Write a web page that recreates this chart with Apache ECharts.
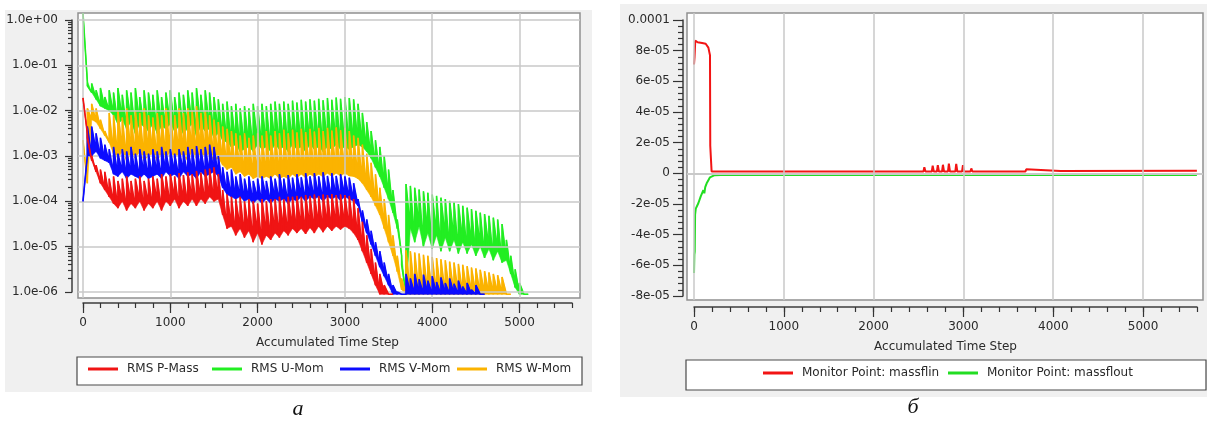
<!DOCTYPE html>
<html>
<head>
<meta charset="utf-8">
<title>Residuals and mass flow monitors</title>
<script src="https://cdn.jsdelivr.net/npm/echarts@6/dist/echarts.min.js"></script>
<style>
    html, body { margin: 0; padding: 0; background: #fff; }
    #main { width: 1210px; height: 421px; }
</style>
</head>
<body>
<div id="main"></div>
<script>
// left plot (a): RMS residuals, kept as log10 of the residual
// one entry per 50 time steps: value right after the jump (hi) and at the end of the step (lo)
var blockSize = 50;

var pMassHi = [
    -1.72, -2.6, -3.0, -3.2, -3.3, -3.35, -3.5, -3.45, -3.55, -3.5,
    -3.45, -3.55, -3.5, -3.45, -3.55, -3.5, -3.45, -3.5, -3.4, -3.45,
    -3.4, -3.45, -3.38, -3.42, -3.36, -3.4, -3.33, -3.37, -3.3, -3.28,
    -3.25, -3.4, -3.75, -3.85, -3.9, -3.95, -3.9, -4.0, -3.95, -4.0,
    -4.05, -3.95, -4.0, -3.95, -3.95, -3.9, -3.95, -3.9, -3.9, -3.88,
    -3.9, -3.86, -3.88, -3.85, -3.88, -3.85, -3.86, -3.84, -3.86, -3.85,
    -3.86, -3.88, -3.95, -4.15, -4.45, -4.75, -5.05, -5.35, -5.6, -5.85,
    -6.05
];
var pMassLo = [
    -2.5, -3.1, -3.35, -3.6, -3.75, -3.9, -4.05, -4.15, -4.0, -4.2,
    -4.05, -4.15, -4.0, -4.2, -4.05, -4.15, -4.0, -4.2, -4.0, -4.1,
    -3.95, -4.15, -4.0, -4.1, -3.95, -4.1, -3.95, -4.05, -3.9, -4.0,
    -3.95, -4.3, -4.6, -4.55, -4.75, -4.6, -4.8, -4.65, -4.9, -4.7,
    -4.95, -4.75, -4.85, -4.7, -4.8, -4.65, -4.75, -4.6, -4.7, -4.6,
    -4.72, -4.58, -4.7, -4.55, -4.68, -4.55, -4.65, -4.55, -4.62, -4.55,
    -4.6, -4.7, -4.85, -5.1, -5.35, -5.6, -5.85, -6.05, -6.05, -6.05,
    -6.05
];

var uMomHi = [
    0.15, -1.45, -1.4, -1.55, -1.5, -1.7, -1.55, -1.6, -1.5, -1.65,
    -1.55, -1.6, -1.5, -1.7, -1.55, -1.6, -1.65, -1.55, -1.7, -1.6,
    -1.55, -1.7, -1.6, -1.65, -1.55, -1.6, -1.5, -1.65, -1.55, -1.6,
    -1.7, -1.75, -1.85, -1.8, -1.9, -1.85, -1.95, -1.9, -1.95, -1.85,
    -1.9, -1.85, -1.9, -1.85, -1.8, -1.85, -1.8, -1.85, -1.78, -1.82,
    -1.76, -1.8, -1.75, -1.78, -1.74, -1.77, -1.72, -1.76, -1.71, -1.74,
    -1.7, -1.72, -1.75, -1.85, -2.05, -2.25, -2.45, -2.65, -2.8, -3.0,
    -3.3, -3.75, -4.4, -5.4, -3.62, -3.66, -3.7, -3.74, -3.78, -3.81,
    -3.85, -3.88, -3.92, -3.95, -3.99, -4.02, -4.06, -4.1, -4.14, -4.17,
    -4.21, -4.25, -4.28, -4.32, -4.36, -4.4, -4.5, -4.85, -5.2, -5.5,
    -5.8, -6.05
];
var uMomLo = [
    -1.35, -1.6, -1.75, -1.9, -1.95, -2.0, -2.1, -2.3, -2.2, -2.4,
    -2.25, -2.5, -2.3, -2.35, -2.45, -2.3, -2.5, -2.35, -2.4, -2.3,
    -2.45, -2.35, -2.5, -2.4, -2.3, -2.55, -2.35, -2.45, -2.4, -2.6,
    -2.5, -2.65, -2.7, -2.8, -2.75, -2.9, -2.85, -2.8, -2.9, -2.75,
    -2.85, -2.8, -2.9, -2.75, -2.85, -2.8, -2.9, -2.75, -2.85, -2.8,
    -2.9, -2.75, -2.85, -2.8, -2.9, -2.8, -2.85, -2.75, -2.85, -2.8,
    -2.85, -2.8, -2.75, -2.8, -2.9, -3.05, -3.25, -3.45, -3.7, -3.95,
    -4.25, -4.6, -5.2, -6.05, -4.6, -4.9, -4.55, -5.0, -4.7, -5.05,
    -4.75, -5.1, -4.8, -5.1, -4.85, -5.15, -4.9, -5.15, -4.95, -5.2,
    -5.0, -5.25, -5.05, -5.3, -5.1, -5.35, -5.3, -5.6, -5.9, -6.05,
    -6.05, -6.05
];

var vMomHi = [
    -4.0, -2.35, -2.35, -2.5, -2.6, -2.75, -2.85, -2.8, -2.95, -2.85,
    -2.9, -2.8, -2.95, -2.85, -2.9, -2.95, -2.85, -2.9, -2.8, -2.9,
    -2.85, -2.95, -2.85, -2.9, -2.8, -2.85, -2.78, -2.85, -2.8, -2.75,
    -2.8, -3.0, -3.25, -3.35, -3.3, -3.45, -3.4, -3.5, -3.45, -3.55,
    -3.5, -3.45, -3.55, -3.45, -3.5, -3.4, -3.5, -3.42, -3.48, -3.4,
    -3.47, -3.38, -3.45, -3.38, -3.45, -3.36, -3.44, -3.38, -3.44, -3.4,
    -3.45, -3.48, -3.6, -3.95, -4.2, -4.4, -4.65, -4.9, -5.1, -5.35,
    -5.6, -5.85, -6.0, -6.05, -5.6, -5.7, -5.6, -5.72, -5.62, -5.75,
    -5.65, -5.78, -5.68, -5.8, -5.7, -5.82, -5.75, -5.88, -5.8, -5.95,
    -5.85, -6.05
];
var vMomLo = [
    -3.0, -3.0, -2.9, -3.05, -3.1, -3.15, -3.4, -3.45, -3.35, -3.5,
    -3.4, -3.45, -3.5, -3.4, -3.5, -3.45, -3.4, -3.5, -3.35, -3.45,
    -3.4, -3.5, -3.35, -3.45, -3.4, -3.5, -3.35, -3.45, -3.4, -3.35,
    -3.45, -3.7, -3.85, -3.9, -3.95, -3.9, -4.0, -3.95, -4.05, -3.95,
    -4.05, -3.95, -4.05, -3.95, -4.0, -3.95, -4.05, -3.95, -4.0, -3.9,
    -4.0, -3.9, -3.95, -3.9, -4.0, -3.9, -3.95, -3.9, -3.98, -3.9,
    -3.95, -4.0, -4.1, -4.45, -4.7, -4.95, -5.2, -5.45, -5.65, -5.85,
    -6.05, -6.05, -6.05, -6.05, -6.05, -6.05, -6.05, -6.05, -6.05, -6.05,
    -6.05, -6.05, -6.05, -6.05, -6.05, -6.05, -6.05, -6.05, -6.05, -6.05,
    -6.05, -6.05
];

var wMomHi = [
    -2.65, -1.95, -1.85, -1.95, -2.2, -2.45, -2.05, -2.1, -2.0, -2.15,
    -1.95, -2.1, -2.0, -2.05, -1.95, -2.1, -2.15, -2.05, -2.1, -1.95,
    -2.0, -2.1, -1.95, -2.05, -1.95, -2.0, -1.9, -2.05, -2.0, -2.1,
    -2.2, -2.25, -2.35, -2.4, -2.45, -2.5, -2.55, -2.5, -2.6, -2.55,
    -2.5, -2.55, -2.45, -2.55, -2.45, -2.5, -2.42, -2.5, -2.42, -2.48,
    -2.4, -2.47, -2.4, -2.46, -2.38, -2.45, -2.38, -2.44, -2.37, -2.43,
    -2.38, -2.45, -2.55, -2.6, -2.75, -2.95, -3.15, -3.4, -3.7, -3.95,
    -4.3, -4.75, -5.2, -5.7, -5.08, -5.1, -5.13, -5.15, -5.18, -5.2,
    -5.23, -5.25, -5.28, -5.3, -5.33, -5.35, -5.38, -5.4, -5.43, -5.46,
    -5.48, -5.51, -5.54, -5.57, -5.6, -5.63, -5.67, -6.05
];
var wMomLo = [
    -3.6, -2.2, -2.25, -2.4, -2.55, -2.7, -2.95, -3.05, -2.9, -3.1,
    -2.95, -3.05, -2.9, -3.1, -3.0, -2.95, -3.1, -2.95, -3.05, -2.9,
    -3.05, -2.95, -3.0, -3.1, -2.9, -3.05, -2.95, -3.0, -2.95, -3.1,
    -3.05, -3.2, -3.3, -3.25, -3.4, -3.35, -3.45, -3.4, -3.5, -3.45,
    -3.5, -3.45, -3.5, -3.4, -3.5, -3.45, -3.5, -3.4, -3.48, -3.4,
    -3.48, -3.4, -3.46, -3.4, -3.46, -3.38, -3.45, -3.38, -3.44, -3.38,
    -3.44, -3.45, -3.5, -3.6, -3.75, -3.9, -4.1, -4.3, -4.6, -4.9,
    -5.2, -5.55, -5.95, -6.05, -6.05, -6.05, -6.05, -6.05, -6.05, -6.05,
    -6.05, -6.05, -6.05, -6.05, -6.05, -6.05, -6.05, -6.05, -6.05, -6.05,
    -6.05, -6.05, -6.05, -6.05, -6.05, -6.05, -6.05, -6.05
];

// right plot (б): monitor points, values in units of 1e-5
var flinSteps = [0, 6, 14, 40, 90, 130, 160, 178, 181, 190, 196,
    2555, 2565, 2578, 2648, 2658, 2670, 2705, 2715, 2727, 2762, 2772, 2784,
    2828, 2838, 2850, 2910, 2920, 2932, 2985, 2995, 3007, 3078, 3088, 3100,
    3690, 3700, 3712, 4080, 5600];
var flinVals = [7.1, 7.6, 8.65, 8.55, 8.5, 8.45, 8.2, 7.7, 1.8, 1.7, 0.12,
    0.12, 0.4, 0.12, 0.12, 0.5, 0.12, 0.12, 0.54, 0.12, 0.12, 0.56, 0.12,
    0.12, 0.64, 0.12, 0.12, 0.62, 0.12, 0.12, 0.54, 0.12, 0.12, 0.32, 0.12,
    0.12, 0.26, 0.14, 0.16, 0.17];
var flOutSteps = [0, 4, 8, 12, 20, 48, 75, 104, 115, 125, 141, 160, 178, 230, 300,
    520, 528, 536, 900, 908, 916, 1350, 1358, 1366, 1700, 1708, 1716,
    2100, 2108, 2116, 2450, 2458, 2466, 3150, 3158, 3166, 5600];
var flOutVals = [-6.5, -5.3, -5.1, -2.7, -2.3, -1.95, -1.5, -1.1, -1.3, -0.9, -0.65, -0.45, -0.26, -0.12, -0.1,
    -0.1, -0.2, -0.1, -0.1, -0.2, -0.1, -0.1, -0.21, -0.1, -0.1, -0.19, -0.1,
    -0.1, -0.2, -0.1, -0.1, -0.18, -0.1, -0.1, -0.18, -0.1, -0.1];

// axis ticks
var stepTicks = [0, 1000, 2000, 3000, 4000, 5000];
var decadeTicks = [0, -1, -2, -3, -4, -5, -6];
var flowTicks = [10, 8, 6, 4, 2, 0, -2, -4, -6, -8];

var font = 'DejaVu Sans';

function sawData(hi, lo) {
    var pts = [];
    for (var i = 0; i < hi.length; i++) {
        pts.push([i * blockSize, hi[i]]);
        pts.push([(i + 1) * blockSize, lo[i]]);
    }
    return pts;
}

function pairData(steps, vals) {
    return steps.map(function (s, i) {
        return [s, vals[i] * 1e-5];
    });
}

// log minor ticks at 2..9 in every decade
var minorLogTicks = [];
decadeTicks.forEach(function (d) {
    if (d > -6) {
        for (var k = 2; k < 10; k++) {
            minorLogTicks.push(d - 1 + Math.log10(k));
        }
    }
});

function gridLines(xIdx, yIdx, xs, ys) {
    var data = [];
    xs.forEach(function (v) { data.push({xAxis: v}); });
    ys.forEach(function (v) { data.push({yAxis: v}); });
    return {
        type: 'line', xAxisIndex: xIdx, yAxisIndex: yIdx, data: [], z: 1, silent: true,
        markLine: {
            silent: true, symbol: ['none', 'none'], label: {show: false},
            lineStyle: {color: '#c9c9c9', width: 1.5, type: 'solid'},
            emphasis: {disabled: true},
            data: data
        }
    };
}

// one residual = each saw tooth filled down to the low points + the saw line itself
function resSeries(name, color, hi, lo, z) {
    var rows = hi.map(function (h, i) {
        var prevLo = i > 0 ? lo[i - 1] : h;
        return [i * blockSize, (i + 1) * blockSize, h, lo[i], prevLo];
    });
    return [{
        type: 'custom', xAxisIndex: 0, yAxisIndex: 0, z: z, silent: true, clip: true,
        encode: {x: [0, 1], y: [2, 3, 4]},
        data: rows,
        renderItem: function (params, api) {
            var p1 = api.coord([api.value(0), api.value(2)]);
            var p2 = api.coord([api.value(1), api.value(3)]);
            var p3 = api.coord([api.value(0), api.value(4)]);
            return {
                type: 'polygon', silent: true,
                shape: {points: [p1, p2, p3]},
                style: {fill: color, stroke: color, lineWidth: 0.6}
            };
        }
    }, {
        name: name, type: 'line', xAxisIndex: 0, yAxisIndex: 0, z: z,
        color: color, showSymbol: false, symbol: 'none', silent: true,
        lineStyle: {color: color, width: 1.6},
        data: sawData(hi, lo)
    }];
}

function flowSeries(name, color, steps, vals) {
    return {
        name: name, type: 'line', xAxisIndex: 2, yAxisIndex: 3, z: 3,
        color: color, showSymbol: false, symbol: 'none', silent: true,
        lineStyle: {color: color, width: 2},
        data: pairData(steps, vals)
    };
}

var tickStyle = {color: '#333', width: 1.2};
var labelStyle = {fontFamily: font, fontSize: 12, color: '#2a2a2a'};

function stepAxisMajor(grid) {
    return {
        type: 'value', gridIndex: grid, min: 0, max: 5600, interval: 1000,
        position: 'bottom', offset: 11,
        axisLine: {show: true, onZero: false, lineStyle: {color: '#3c3c3c', width: 1.5}},
        axisTick: {show: true, length: 10, customValues: stepTicks, lineStyle: tickStyle},
        axisLabel: Object.assign({
            margin: 14, customValues: stepTicks,
            formatter: function (v) { return String(v); }
        }, labelStyle),
        splitLine: {show: false},
        name: 'Accumulated Time Step', nameLocation: 'middle', nameGap: 34,
        nameTextStyle: labelStyle
    };
}

function stepAxisMinor(grid) {
    return {
        type: 'value', gridIndex: grid, min: 0, max: 5600, interval: 200,
        position: 'bottom', offset: 11,
        axisLine: {show: false, onZero: false},
        axisTick: {show: true, length: 5, lineStyle: tickStyle},
        axisLabel: {show: false},
        splitLine: {show: false}
    };
}

var frameGrid = {show: true, backgroundColor: '#fff', borderColor: '#909090', borderWidth: 1.5, outerBoundsMode: 'none'};

var residuals = [].concat(
    resSeries('RMS U-Mom', '#22ee22', uMomHi, uMomLo, 3),
    resSeries('RMS W-Mom', '#fbb300', wMomHi, wMomLo, 4),
    resSeries('RMS V-Mom', '#0c0cff', vMomHi, vMomLo, 5),
    resSeries('RMS P-Mass', '#f01414', pMassHi, pMassLo, 6)
);

var option = {
    animation: false,
    backgroundColor: '#fff',
    grid: [
        Object.assign({left: 78, top: 13, width: 502, height: 285}, frameGrid),
        {left: 83, top: 20, width: 489, height: 272, outerBoundsMode: 'none'},
        Object.assign({left: 687, top: 13, width: 516, height: 287}, frameGrid),
        {left: 694, top: 20, width: 503, height: 276, outerBoundsMode: 'none'}
    ],
    xAxis: [
        {type: 'value', gridIndex: 0, min: -57, max: 5693, show: false},
        stepAxisMajor(1),
        {type: 'value', gridIndex: 2, min: -78, max: 5668, show: false},
        stepAxisMajor(3),
        stepAxisMinor(1),
        stepAxisMinor(3)
    ],
    yAxis: [
        {type: 'value', gridIndex: 0, min: -6.132, max: 0.154, show: false},
        {
            type: 'value', gridIndex: 1, min: -6, max: 0, interval: 1, position: 'left', offset: 11,
            axisLine: {show: true, onZero: false, lineStyle: {color: '#3c3c3c', width: 1.5}},
            axisTick: {show: true, length: 7, lineStyle: tickStyle},
            axisLabel: Object.assign({
                margin: 14,
                formatter: function (v) {
                    var e = Math.round(-v);
                    if (e <= 0) return '1.0e+00';
                    return '1.0e-' + (e < 10 ? '0' : '') + e;
                }
            }, labelStyle),
            splitLine: {show: false}
        },
        {
            type: 'value', gridIndex: 1, min: -6, max: 0, position: 'left', offset: 11,
            axisLine: {show: false, onZero: false},
            axisTick: {show: true, length: 4, customValues: minorLogTicks, lineStyle: tickStyle},
            axisLabel: {show: false},
            splitLine: {show: false}
        },
        {type: 'value', gridIndex: 2, min: -8.26e-5, max: 1.0457e-4, show: false},
        {
            type: 'value', gridIndex: 3, min: -8e-5, max: 1e-4, interval: 2e-5, position: 'left', offset: 11,
            axisLine: {show: true, onZero: false, lineStyle: {color: '#3c3c3c', width: 1.5}},
            axisTick: {show: true, length: 10, lineStyle: tickStyle},
            minorTick: {show: true, splitNumber: 5, length: 5, lineStyle: tickStyle},
            axisLabel: Object.assign({
                margin: 13,
                formatter: function (v) {
                    var n = Math.round(v * 1e5);
                    if (n === 0) return '0';
                    if (n === 10) return '0.0001';
                    return n + 'e-05';
                }
            }, labelStyle),
            splitLine: {show: false},
            minorSplitLine: {show: false}
        }
    ],
    legend: [
        ['RMS P-Mass', 88, 363], ['RMS U-Mom', 212, 363], ['RMS V-Mom', 340, 363], ['RMS W-Mom', 457, 363],
        ['Monitor Point: massflin', 763, 367], ['Monitor Point: massflout', 948, 367]
    ].map(function (it) {
        return {
            data: [it[0]], left: it[1], top: it[2], padding: 0,
            icon: 'rect', itemWidth: 30, itemHeight: 3, selectedMode: false,
            textStyle: {fontFamily: font, fontSize: 12, color: '#2a2a2a', padding: [0, 0, 0, 4]}
        };
    }),
    graphic: [
        {type: 'rect', z: -10, shape: {x: 5, y: 10, width: 587, height: 382}, style: {fill: '#f0f0f0'}},
        {type: 'rect', z: -10, shape: {x: 620, y: 4, width: 587, height: 393}, style: {fill: '#f0f0f0'}},
        {type: 'rect', z: 1, shape: {x: 77, y: 357, width: 505, height: 28}, style: {fill: '#fff', stroke: '#4a4a4a', lineWidth: 1.2}},
        {type: 'rect', z: 1, shape: {x: 686, y: 360, width: 520, height: 30}, style: {fill: '#fff', stroke: '#4a4a4a', lineWidth: 1.2}},
        {type: 'text', z: 5, style: {text: 'а', x: 298, y: 409, font: 'italic 22px "Liberation Serif"', fill: '#111', align: 'center', verticalAlign: 'middle'}},
        {type: 'text', z: 5, style: {text: 'б', x: 913, y: 407, font: 'italic 22px "Liberation Serif"', fill: '#111', align: 'center', verticalAlign: 'middle'}}
    ],
    series: [
        gridLines(0, 0, stepTicks, decadeTicks),
        gridLines(2, 3, stepTicks, flowTicks.map(function (v) { return v * 1e-5; }))
    ].concat(residuals, [
        flowSeries('Monitor Point: massflout', '#22dd22', flOutSteps, flOutVals),
        flowSeries('Monitor Point: massflin', '#f21414', flinSteps, flinVals)
    ])
};

var myChart = echarts.init(document.getElementById('main'));
myChart.setOption(option);
</script>
</body>
</html>
